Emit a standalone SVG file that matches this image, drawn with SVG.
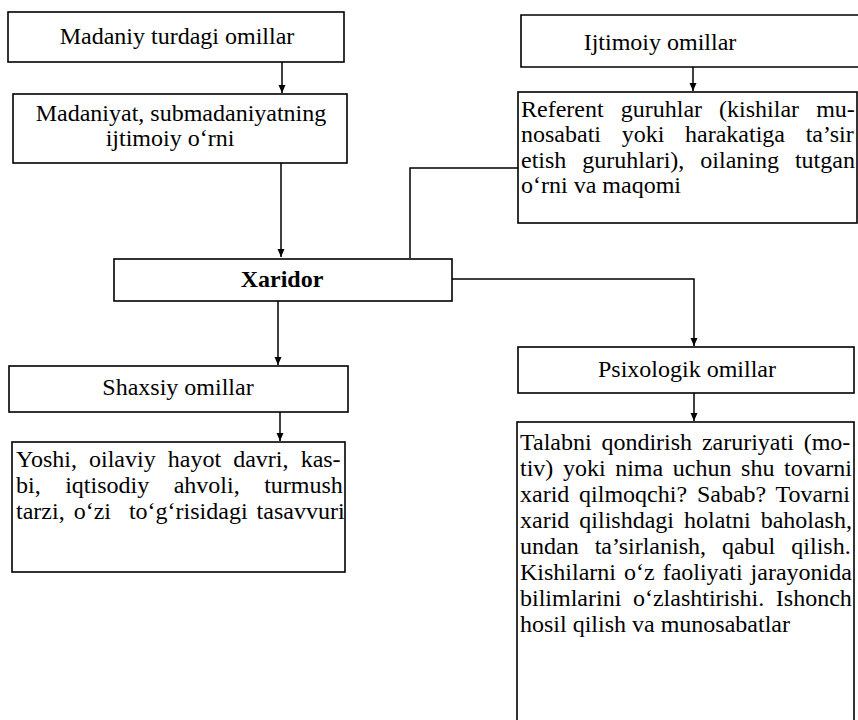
<svg xmlns="http://www.w3.org/2000/svg" width="858" height="720" viewBox="0 0 858 720">
<defs>
<marker id="ah" viewBox="0 0 8 8" refX="8" refY="4" markerWidth="8" markerHeight="8" markerUnits="userSpaceOnUse" orient="auto">
<path d="M0,0.5 L8,4 L0,7.5 z" fill="#000"/>
</marker>
<style>
.box{fill:#fff;stroke:#000;stroke-width:1.6}
.t{font-family:"Liberation Serif","Times New Roman",serif;font-size:24px;fill:#000}
.c{text-anchor:middle}
.b{font-weight:bold}
.ln{fill:none;stroke:#000;stroke-width:1.5}
</style>
</defs>
<rect width="858" height="720" fill="#fff"/>
<g id="connectors">
<path class="ln" d="M282,62 V93" marker-end="url(#ah)"/>
<path class="ln" d="M281,163 V257" marker-end="url(#ah)"/>
<path class="ln" d="M518,168 H410 V258"/>
<path class="ln" d="M693,67 V91" marker-end="url(#ah)"/>
<path class="ln" d="M452,279 H694 V346" marker-end="url(#ah)"/>
<path class="ln" d="M278,301 V365" marker-end="url(#ah)"/>
<path class="ln" d="M280,412 V441" marker-end="url(#ah)"/>
<path class="ln" d="M694,393 V421" marker-end="url(#ah)"/>
</g>
<g id="madaniy-turdagi">
<rect class="box" x="8" y="12" width="336" height="50"/>
<text class="t c" x="177" y="44">Madaniy turdagi omillar</text>
</g>
<g id="madaniyat">
<rect class="box" x="13" y="94" width="334" height="69"/>
<text class="t c" x="181" y="121">Madaniyat, submadaniyatning</text>
<text class="t c" x="170" y="146">ijtimoiy o‘rni</text>
</g>
<g id="ijtimoiy">
<path class="box" d="M860,15 H521 V67 H860"/>
<text class="t c" x="660" y="50">Ijtimoiy omillar</text>
</g>
<g id="referent">
<rect class="box" x="518" y="92" width="339" height="131"/>
<text class="t" x="521" y="117" word-spacing="11.1">Referent guruhlar (kishilar mu-</text>
<text class="t" x="521" y="142" word-spacing="14.7">nosabati yoki harakatiga ta’sir</text>
<text class="t" x="521" y="168" word-spacing="10">etish guruhlari), oilaning tutgan</text>
<text class="t" x="521" y="193">o‘rni va maqomi</text>
</g>
<g id="xaridor">
<rect class="box" x="114" y="259" width="338" height="42"/>
<text class="t c b" x="282" y="287">Xaridor</text>
</g>
<g id="shaxsiy">
<rect class="box" x="9" y="366" width="339" height="46"/>
<text class="t c" x="178" y="395">Shaxsiy omillar</text>
</g>
<g id="yoshi">
<rect class="box" x="12" y="442" width="333" height="130"/>
<text class="t" x="16" y="467" word-spacing="6.1">Yoshi, oilaviy hayot davri, kas-</text>
<text class="t" x="16" y="493" word-spacing="18.5">bi, iqtisodiy ahvoli, turmush</text>
<text class="t" x="16" y="519" xml:space="preserve" word-spacing="3">tarzi, o‘zi  to‘g‘risidagi tasavvuri</text>
</g>
<g id="psixologik">
<rect class="box" x="518" y="347" width="336" height="46"/>
<text class="t c" x="687" y="377">Psixologik omillar</text>
</g>
<g id="talabni">
<rect class="box" x="517" y="422" width="337" height="310"/>
<text class="t" x="520" y="450" word-spacing="3.8">Talabni qondirish zaruriyati (mo-</text>
<text class="t" x="520" y="476" word-spacing="3.6">tiv) yoki nima uchun shu tovarni</text>
<text class="t" x="520" y="502" word-spacing="3.8">xarid qilmoqchi? Sabab? Tovarni</text>
<text class="t" x="520" y="528" word-spacing="4">xarid qilishdagi holatni baholash,</text>
<text class="t" x="520" y="554" word-spacing="10">undan ta’sirlanish, qabul qilish.</text>
<text class="t" x="520" y="580" word-spacing="2">Kishilarni o‘z faoliyati jarayonida</text>
<text class="t" x="520" y="606" word-spacing="5.6">bilimlarini o‘zlashtirishi. Ishonch</text>
<text class="t" x="520" y="632">hosil qilish va munosabatlar</text>
</g>
</svg>
